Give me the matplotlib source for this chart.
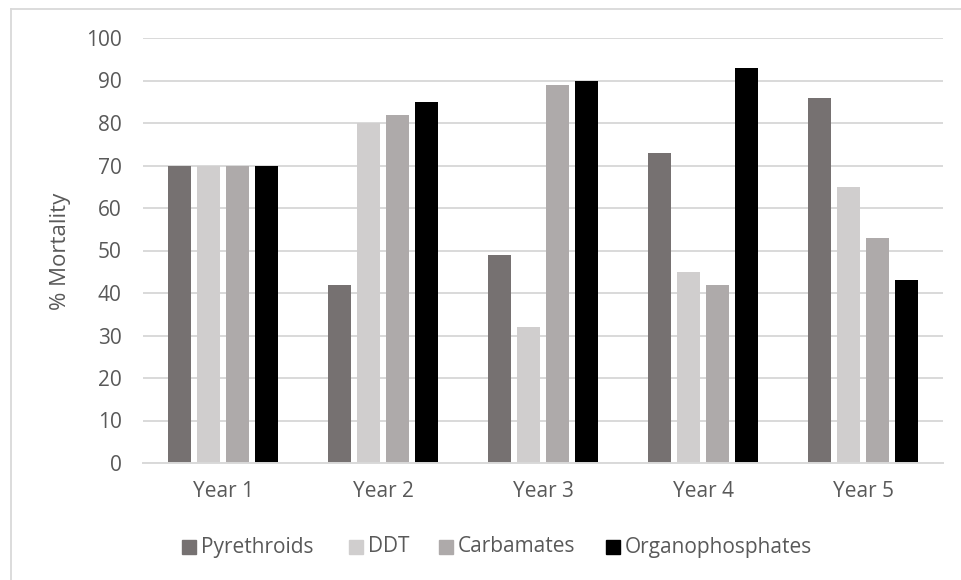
import matplotlib
matplotlib.use("Agg")
import matplotlib.pyplot as plt
from matplotlib.patches import Rectangle
from matplotlib.lines import Line2D
import numpy as np

# Data
years = ["Year 1", "Year 2", "Year 3", "Year 4", "Year 5"]
series_names = ["Pyrethroids", "DDT", "Carbamates", "Organophosphates"]
pyrethroids = [70, 42, 49, 73, 86]
ddt = [70, 80, 32, 45, 65]
carbamates = [70, 82, 89, 42, 53]
organophosphates = [70, 85, 90, 93, 43]
y_ticks = list(range(0, 101, 10))

# Style
colors = ["#767171", "#D0CECE", "#AEAAAA", "#000000"]
grid_color = "#D9D9D9"
text_color = "#595959"
font = "Open Sans"
W, H = 961, 580

fig = plt.figure(figsize=(W / 100, H / 100), dpi=100)
fig.patch.set_facecolor("white")

# Chart-area border (left and top edges visible)
fig.add_artist(Line2D([11 / W, 11 / W], [0, 1 - 9 / H], transform=fig.transFigure,
                      color=grid_color, lw=1.3))
fig.add_artist(Line2D([11 / W, 1], [1 - 9 / H, 1 - 9 / H], transform=fig.transFigure,
                      color=grid_color, lw=1.3))

ax = fig.add_axes([143.3 / W, 1 - 463 / H, 800 / W, 425 / H])
ax.set_xlim(-0.5, len(years) - 0.5)
ax.set_ylim(0, 100)

x = np.arange(len(years))
step = 0.18125
width = 0.14375
all_series = [pyrethroids, ddt, carbamates, organophosphates]
for j, (vals, col, name) in enumerate(zip(all_series, colors, series_names)):
    ax.bar(x + (j - 1.5) * step, vals, width=width, color=col, label=name, zorder=3)

ax.set_yticks(y_ticks)
ax.yaxis.grid(True, color=grid_color, lw=1.4, zorder=0)
ax.set_axisbelow(True)
for s in ["top", "right", "left"]:
    ax.spines[s].set_visible(False)
ax.spines["bottom"].set_color(grid_color)
ax.spines["bottom"].set_linewidth(1.4)
ax.spines["bottom"].set_zorder(4)

ax.set_xticks(x)
ax.set_xticklabels(years)
ax.tick_params(axis="both", length=0, labelcolor=text_color, labelsize=15)
ax.tick_params(axis="y", pad=15.5)
ax.tick_params(axis="x", pad=13)
for lbl in ax.get_xticklabels() + ax.get_yticklabels():
    lbl.set_fontfamily(font)

fig.text(61 / W, 1 - 251 / H, "% Mortality", rotation=90, ha="center", va="center",
         color=text_color, fontsize=16, family=font)

# Legend row beneath the axes
legend_x = [182, 349, 439, 606]
legend_y = 547
sq = 14
for lx, col, name in zip(legend_x, colors, series_names):
    fig.add_artist(Rectangle((lx / W, 1 - (legend_y + sq / 2) / H), sq / W, sq / H,
                             transform=fig.transFigure, color=col))
    fig.text((lx + sq + 5) / W, 1 - legend_y / H, name, ha="left", va="center",
             color=text_color, fontsize=15, family=font)

fig.savefig("out.png", dpi=100, facecolor="white")
